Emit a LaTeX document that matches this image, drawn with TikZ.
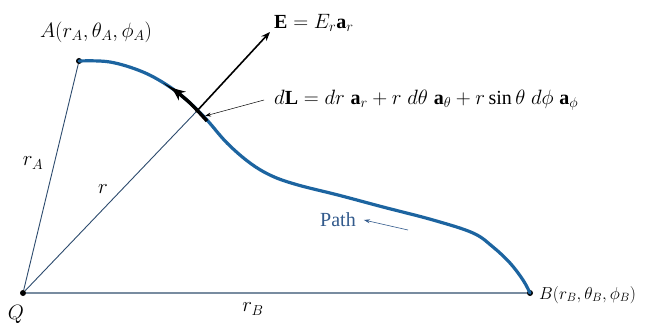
\documentclass[tikz,border=0pt]{standalone}
\usepackage{fontspec}
\setmainfont{Liberation Serif}
\usetikzlibrary{arrows.meta}
\definecolor{pathblue}{RGB}{28,100,160}
\definecolor{lineblue}{RGB}{45,75,110}
\definecolor{baseblue}{RGB}{120,140,160}
\definecolor{labblue}{RGB}{50,90,140}
\tikzset{
  dot/.style={circle,fill=black,inner sep=0pt,minimum size=6pt},
  lab/.style={inner sep=0pt,font=\fontsize{20}{24}\selectfont},
  thinline/.style={lineblue,line width=0.9pt},
}
\begin{document}
\begin{tikzpicture}[x=1pt,y=-1pt]
\useasboundingbox (0,0) rectangle (651,329);
\fill[white] (0,0) rectangle (651,329);
% points
\node[dot] (Q) at (23,293) {};
\node[dot] (A) at (79,61) {};
\node[dot] (B) at (530,293) {};
\coordinate (P) at (196,112);
\coordinate (Etip) at (270,32);
\coordinate (dLtip) at (205,116);
% straight lines
\draw[baseblue,line width=1.6pt] (Q) -- (B);
\draw[thinline] (Q) -- (A);
\draw[thinline] (Q) -- (P);
% path
\draw[pathblue,line width=3.2pt,line cap=round] plot[smooth,tension=0.6] coordinates
  {(79,61) (110,62) (143,72) (170,87) (190,103) (207,120) (227,143) (250,163) (272,176) (298,185) (338,195) (383,207) (433,220) (473,233) (493,247) (510,263) (523,280) (530,293)};
% dL segment
\draw[black,line width=3.4pt,-{Stealth[length=13pt,width=11pt]}] plot[smooth,tension=0.55] coordinates {(207,121) (190,103) (172,88)};
% E arrow
\draw[black,line width=1.6pt,-{Stealth[length=9pt,width=7pt]}] (P) -- (Etip);
% labels
\node[lab,anchor=west] (Elab) at (274,23) {$\mathbf{E} = E_r\mathbf{a}_r$};
\node[lab,anchor=west] (dLlab) at (274,100) {$d\mathbf{L} = dr\;\mathbf{a}_r + r\;d\theta\;\mathbf{a}_\theta + r\sin\theta\;d\phi\;\mathbf{a}_\phi$};
\draw[black,line width=0.5pt,-{Stealth[length=6pt,width=4pt]}] ([xshift=-10pt]dLlab.west) -- (dLtip);
\node[lab] (Alab) at (96,32) {$A(r_A, \theta_A, \phi_A)$};
\node[lab,anchor=west,font=\fontsize{18}{22}\selectfont] (Blab) at (539,295) {$B(r_B, \theta_B, \phi_B)$};
\node[lab] (Qlab) at (16,314) {$Q$};
\node[lab] (rA) at (33,163) {$r_A$};
\node[lab] (r) at (103,189) {$r$};
\node[lab] (rB) at (253,309) {$r_B$};
\node[lab,text=labblue,anchor=west] (Plab) at (320,220) {Path};
\coordinate (Pstart) at (408,230);
\draw[labblue,line width=0.6pt,-{Stealth[length=6pt,width=4pt]}] (Pstart) -- ([xshift=8pt]Plab.east);
\end{tikzpicture}
\end{document}
